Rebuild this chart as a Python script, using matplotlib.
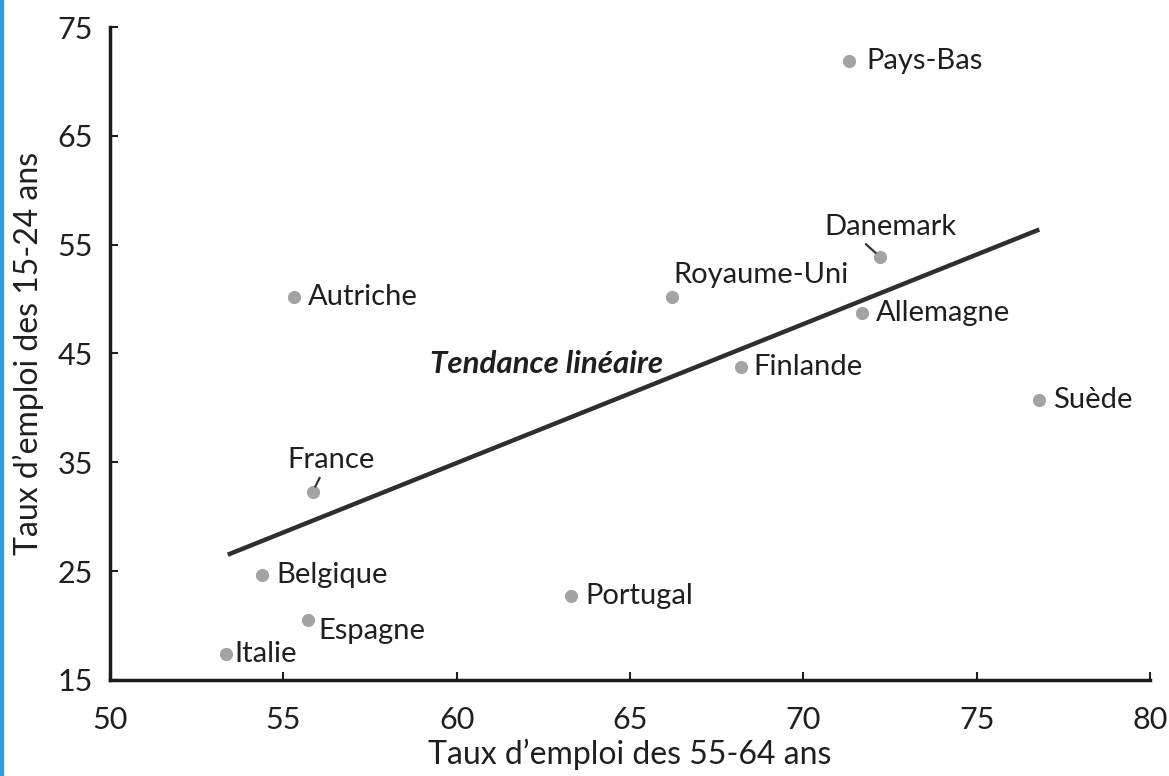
import matplotlib.pyplot as plt
from matplotlib.patches import Rectangle

# Data
pays = ['Pays-Bas', 'Danemark', 'Royaume-Uni', 'Autriche', 'Allemagne', 'Finlande',
        'Suède', 'France', 'Belgique', 'Portugal', 'Espagne', 'Italie']
emploi_55_64 = [71.3, 72.2, 66.2, 55.3, 71.7, 68.2, 76.8, 55.85, 54.4, 63.3, 55.7, 53.35]
emploi_15_24 = [71.9, 53.9, 50.2, 50.2, 48.7, 43.8, 40.7, 32.3, 24.6, 22.7, 20.5, 17.4]

# linear trend end points
trend_x = [53.4, 76.8]
trend_y = [26.5, 56.4]

xticks = [50, 55, 60, 65, 70, 75, 80]
yticks = [15, 25, 35, 45, 55, 65, 75]

plt.rcParams['font.family'] = ['Lato', 'DejaVu Sans']
txt = '#1f1f1f'

fig = plt.figure(figsize=(11.69, 7.76), dpi=100)
ax = fig.add_axes([0.094, 0.124, 0.89, 0.841])

ax.scatter(emploi_55_64, emploi_15_24, s=90, color='#a3a3a3', zorder=3, linewidths=0)
ax.plot(trend_x, trend_y, color='#2e2e2e', lw=3.2, solid_capstyle='butt', zorder=2)

# label placement: (dx, dy) offsets in points, alignment
offsets = {
    'Pays-Bas': (13, 0, 'left'),
    'Danemark': (8, 21, 'center'),
    'Royaume-Uni': (1, 16, 'left'),
    'Autriche': (10, 0, 'left'),
    'Allemagne': (10, 0, 'left'),
    'Finlande': (9, 0, 'left'),
    'Suède': (10, 0, 'left'),
    'France': (13, 23, 'center'),
    'Belgique': (10, 0, 'left'),
    'Portugal': (10, 0, 'left'),
    'Espagne': (8, -8, 'left'),
    'Italie': (6, 0, 'left'),
}
for name, x, y in zip(pays, emploi_55_64, emploi_15_24):
    dx, dy, ha = offsets[name]
    ax.annotate(name, (x, y), xytext=(dx, dy), textcoords='offset points',
                ha=ha, va='center', fontsize=21, color=txt)

# small leader ticks for Danemark and France
leaders = {'Danemark': (-10, 9), 'France': (5, 10)}
for name, (ddx, ddy) in leaders.items():
    i = pays.index(name)
    ax.annotate('', (emploi_55_64[i], emploi_15_24[i]), xytext=(ddx, ddy),
                textcoords='offset points',
                arrowprops=dict(arrowstyle='-', color='#333333', lw=1.6,
                                shrinkA=0, shrinkB=4))

ax.text(62.6, 44.0, 'Tendance linéaire', fontsize=22.5, fontstyle='italic',
        fontweight='bold', ha='center', va='center', color=txt)

ax.set_xlim(50, 80)
ax.set_ylim(15, 75)
ax.set_xticks(xticks)
ax.set_yticks(yticks)
ax.tick_params(direction='in', length=6, width=1.5, labelsize=22, colors=txt)
ax.tick_params(axis='x', pad=19)
ax.tick_params(axis='y', pad=12)
for s in ['top', 'right']:
    ax.spines[s].set_visible(False)
for s in ['left', 'bottom']:
    ax.spines[s].set_linewidth(2.5)
    ax.spines[s].set_color('#1a1a1a')

ax.set_xlabel("Taux d’emploi des 55-64 ans", fontsize=23, color=txt, labelpad=3)
ax.set_ylabel("Taux d’emploi des 15-24 ans", fontsize=23, color=txt, labelpad=10)

fig.patches.append(Rectangle((0, 0), 0.0025, 1, transform=fig.transFigure,
                             color='#2a9fe6', zorder=10))

fig.savefig('out.png', dpi=100, facecolor='white')
